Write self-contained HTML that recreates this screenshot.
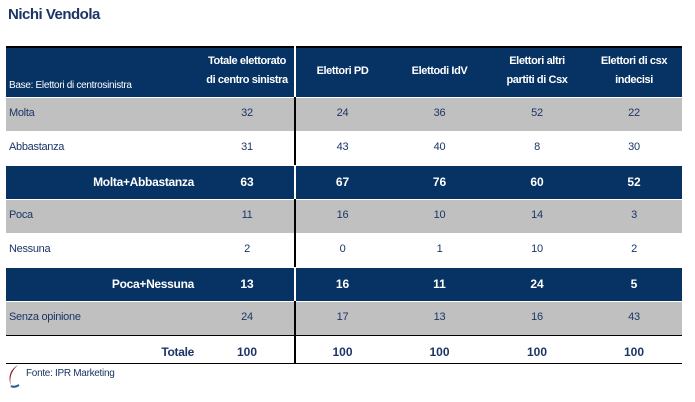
<!DOCTYPE html>
<html><head><meta charset="utf-8"><style>
body{margin:0;width:695px;height:402px;background:#fff;font-family:"Liberation Sans Narrow","Liberation Sans",sans-serif;position:relative;overflow:hidden}
.a{position:absolute;box-sizing:border-box}
.t{color:#1b3566;font-size:11px;letter-spacing:-0.3px}
.w{color:#fff;font-weight:bold;font-size:11px;letter-spacing:-0.4px;white-space:nowrap}
.c{text-align:center}
</style></head><body>
<div class="a" style="left:8px;top:6px;font-size:15px;font-weight:bold;color:#1b3566;letter-spacing:-0.5px">Nichi Vendola</div>
<div id="tbl"></div>
<div class="a" style="left:6px;top:364px;width:14px;height:24px"><svg width="14" height="24"><path d="M12 1 Q0 8 5 22 Q2 10 12 1Z" fill="#8b1a2a"/><path d="M5 22 Q8 24 13 21" stroke="#2a5c8a" stroke-width="2" fill="none"/></svg></div>
<div class="a t" style="left:26px;top:368px;font-size:10px">Fonte: IPR Marketing</div>
<script>
const cols=["Totale elettorato<br>di centro sinistra","Elettori PD","Elettodi IdV","Elettori altri<br>partiti di Csx","Elettori di csx<br>indecisi"];
const rows=["Molta","Abbastanza","Molta+Abbastanza","Poca","Nessuna","Poca+Nessuna","Senza opinione","Totale"];
const v0=[32,31,63,11,2,13,24,100];
const v1=[24,43,67,16,0,16,17,100];
const v2=[36,40,76,10,1,11,13,100];
const v3=[52,8,60,14,10,24,16,100];
const v4=[22,30,52,3,2,5,43,100];
const vals=[v0,v1,v2,v3,v4];
const styles=["g","w","d","g","w","d","g","t"];
const T=document.getElementById('tbl');
const cx=[200,294,391,488,586,682];
function add(html,css,cls,name){const d=document.createElement('div');d.className='a '+cls;d.style.cssText=css;d.innerHTML=html;


T.appendChild(d);return d;}
add('','left:6px;top:46px;width:676px;height:51px;background:#063264;border-top:2px solid #000','', 'header-bg');
add('Base: Elettori di centrosinistra','left:9px;top:80px;color:#fff;font-size:10px;letter-spacing:-0.3px','', 'base-note');
cols.forEach((c,i)=>{add(c,`left:${cx[i]}px;top:${c.includes('<br>')?52:62}px;width:${cx[i+1]-cx[i]}px;line-height:19px;`,'w c','col-header');});
add('','left:294px;top:46px;width:2px;height:51px;background:#fff','', 'header-divider');
const rh=34;
rows.forEach((r,k)=>{const y=97+k*rh;const s=styles[k];const h=s==='t'?28:rh;
 const bg=s==='g'?'#c0c0c0':s==='d'?'#063264':'#fff';
 add('',`left:6px;top:${y+1}px;width:676px;height:${h-1}px;background:${bg}`,'', 'row-bg');
 const bold=s==='d'||s==='t';
 const col=s==='d'?'#fff':'#1b3566';
 if(bold) add(r,`left:6px;top:${y+10}px;width:188px;text-align:right;color:${col};font-weight:bold;font-size:12px;letter-spacing:-0.3px`,'', 'row-label');
 else add(r,`left:9px;top:${y+10}px;`,'t','row-label');
 vals.forEach((arr,i)=>{add(arr[k],`left:${cx[i]}px;top:${y+10}px;width:${cx[i+1]-cx[i]}px;color:${col};${bold?'font-weight:bold;font-size:12px':''}`,bold?'c':'t c','cell-value');});
 add('',`left:294px;top:${y}px;width:2px;height:${h}px;background:${s==='d'?'#fff':'#000'}`,'', 'col-divider');
});
add('','left:6px;top:335px;width:676px;height:1px;background:#000','', 'total-top-line');
add('','left:6px;top:363px;width:676px;height:1px;background:#000','', 'total-bottom-line');
</script>
</body></html>
